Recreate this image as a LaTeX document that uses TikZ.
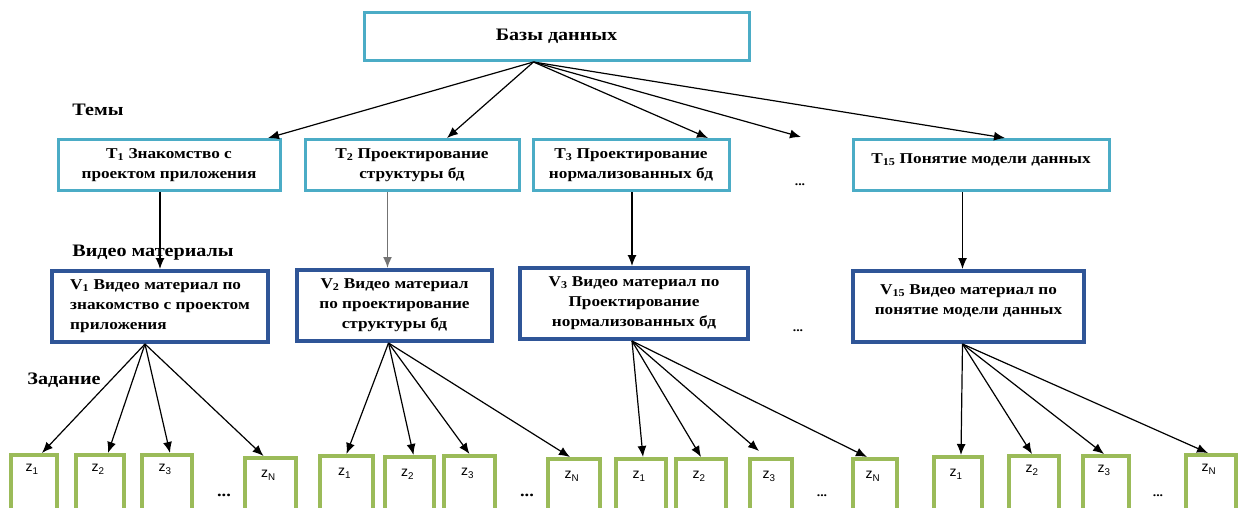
\documentclass[tikz,border=0pt]{standalone}
\usepackage{fontspec}
\setmainfont{Liberation Serif}[FakeStretch=1.15]
\setsansfont{Liberation Sans}
\usetikzlibrary{arrows.meta}
\definecolor{cyanb}{RGB}{75,172,198}
\definecolor{navyb}{RGB}{47,85,151}
\definecolor{greenb}{RGB}{155,187,89}
\tikzset{
  txt/.style={font=\bfseries\fontsize{15}{20}\selectfont},
  big/.style={font=\bfseries\fontsize{17.5}{20}\selectfont},
  tbox/.style={draw=cyanb, line width=3pt, fill=white, align=center, inner sep=0pt, txt},
  vbox/.style={draw=navyb, line width=4pt, fill=white, align=center, inner sep=0pt, txt},
  zbox/.style={draw=greenb, line width=4pt, anchor=north, minimum height=62pt, inner sep=0pt},
  zlab/.style={font=\sffamily\fontsize{14}{14}\selectfont},
  arr/.style={-{Latex[length=11pt,width=9pt]}, line width=1.2pt},
  dots/.style={font=\bfseries\fontsize{16}{16}\selectfont},
  sdots/.style={font=\bfseries\fontsize{12}{12}\selectfont},
}
\newcommand{\zz}[1]{z\textsubscript{#1}}
\begin{document}
\begin{tikzpicture}[x=1pt,y=-1pt]
\useasboundingbox (0,0) rectangle (1243,507);
\clip (0,0) rectangle (1243,507);

% top
\node[tbox, big, minimum width=385pt, minimum height=48pt] (db) at (556.5,36.5) {Базы данных};

% labels
\node[big] (lt) at (98,110) {Темы};
\node[big] (lv) at (153,253) {Видео материалы};
\node[big] (lz) at (64,380) {Задание};

% topics
\node[tbox, minimum width=222pt, minimum height=51pt] (t1) at (169,165) {T\textsubscript{1} Знакомство с\\проектом приложения};
\node[tbox, minimum width=214pt, minimum height=51pt] (t2) at (412,165) {T\textsubscript{2} Проектирование\\структуры бд};
\node[tbox, minimum width=196pt, minimum height=51pt] (t3) at (631,165) {T\textsubscript{3} Проектирование\\нормализованных бд};
\node[tbox, minimum width=256pt, minimum height=51pt] (t15) at (981,165) {};
\node[txt] (t15t) at (981,160) {T\textsubscript{15} Понятие модели данных};
\node[sdots] (d1) at (800,185) {...};
\coordinate (dtop) at (801,137);

% videos
\node[vbox, minimum width=216pt, minimum height=71pt, align=left] (v1) at (160,306.5) {V\textsubscript{1} Видео материал по\\знакомство с проектом\\приложения};
\node[vbox, minimum width=195pt, minimum height=71pt] (v2) at (394.5,305.5) {V\textsubscript{2} Видео материал\\по проектирование\\структуры бд};
\node[vbox, minimum width=228pt, minimum height=71pt] (v3) at (634,303.5) {V\textsubscript{3} Видео материал по\\Проектирование\\нормализованных бд};
\node[vbox, minimum width=231pt, minimum height=71pt] (v15) at (968.5,306.5) {};
\node[txt, align=center] (v15t) at (968.5,301) {V\textsubscript{15} Видео материал по\\понятие модели данных};
\node[sdots] (d2) at (798,331) {...};

% tasks
\node[zbox, minimum width=46pt, label={[zlab,anchor=north,yshift=-8pt,xshift=-2pt]north:\zz{1}}] (z11) at (34,453) {};
\node[zbox, minimum width=48pt, label={[zlab,anchor=north,yshift=-8pt,xshift=-2pt]north:\zz{2}}] (z12) at (100,453) {};
\node[zbox, minimum width=50pt, label={[zlab,anchor=north,yshift=-8pt,xshift=-2pt]north:\zz{3}}] (z13) at (167,453) {};
\node[dots] (e1) at (224,495) {...};
\node[zbox, minimum width=51pt, label={[zlab,anchor=north,yshift=-11pt,xshift=-2pt]north:\zz{N}}] (z14) at (270.5,456) {};

\node[zbox, minimum width=53pt, label={[zlab,anchor=north,yshift=-11pt,xshift=-2pt]north:\zz{1}}] (z21) at (346.5,454) {};
\node[zbox, minimum width=49pt, label={[zlab,anchor=north,yshift=-11pt,xshift=-2pt]north:\zz{2}}] (z22) at (409.5,455) {};
\node[zbox, minimum width=51pt, label={[zlab,anchor=north,yshift=-11pt,xshift=-2pt]north:\zz{3}}] (z23) at (469.5,454) {};
\node[dots] (e2) at (527,495) {...};
\node[zbox, minimum width=52pt, label={[zlab,anchor=north,yshift=-11pt,xshift=-2pt]north:\zz{N}}] (z24) at (574,457) {};

\node[zbox, minimum width=50pt, label={[zlab,anchor=north,yshift=-11pt,xshift=-2pt]north:\zz{1}}] (z31) at (641,457) {};
\node[zbox, minimum width=50pt, label={[zlab,anchor=north,yshift=-11pt,xshift=-2pt]north:\zz{2}}] (z32) at (701,457) {};
\node[zbox, minimum width=42pt, label={[zlab,anchor=north,yshift=-11pt,xshift=-2pt]north:\zz{3}}] (z33) at (771,457) {};
\node[sdots] (e3) at (822,496) {...};
\node[zbox, minimum width=44pt, label={[zlab,anchor=north,yshift=-11pt,xshift=-2pt]north:\zz{N}}] (z34) at (875,457) {};

\node[zbox, minimum width=48pt, label={[zlab,anchor=north,yshift=-11pt,xshift=-2pt]north:\zz{1}}] (z41) at (958,455) {};
\node[zbox, minimum width=50pt, label={[zlab,anchor=north,yshift=-8pt,xshift=-2pt]north:\zz{2}}] (z42) at (1034,454) {};
\node[zbox, minimum width=46pt, label={[zlab,anchor=north,yshift=-8pt,xshift=-2pt]north:\zz{3}}] (z43) at (1106,454) {};
\node[sdots] (e4) at (1158,496) {...};
\node[zbox, minimum width=50pt, label={[zlab,anchor=north,yshift=-8pt,xshift=-2pt]north:\zz{N}}] (z44) at (1211,453) {};

% connectors: top
\coordinate (o) at ([xshift=-23pt]db.south);
\draw[arr] (o) -- ([xshift=99pt]t1.north);
\draw[arr] (o) -- ([xshift=35pt]t2.north);
\draw[arr] (o) -- ([xshift=77pt]t3.north);
\draw[arr] (o) -- (dtop);
\draw[arr] (o) -- ([xshift=24pt]t15.north);

% topics to videos
\draw[arr] (t1.south -| v1.north) -- (v1.north);
\draw[arr, line width=1.7pt, draw=black!55, fill=black!55] ([xshift=-7pt]v2.north |- t2.south) -- ([xshift=-7pt]v2.north);
\draw[arr] ([xshift=-2pt]v3.north |- t3.south) -- ([xshift=-2pt]v3.north);
\draw[arr] ([xshift=-6pt]v15.north |- t15.south) -- ([xshift=-6pt]v15.north);

% videos to tasks
\coordinate (o1) at ([xshift=-15pt]v1.south);
\draw[arr] (o1) -- ([xshift=8pt]z11.north);
\draw[arr] (o1) -- ([xshift=8pt]z12.north);
\draw[arr] (o1) -- ([xshift=3pt]z13.north);
\draw[arr] (o1) -- ([xshift=-7pt]z14.north);

\coordinate (o2) at ([xshift=-6pt]v2.south);
\draw[arr] (o2) -- (z21.north);
\draw[arr] (o2) -- ([xshift=4pt]z22.north);
\draw[arr] (o2) -- (z23.north);
\draw[arr] (o2) -- ([xshift=-4pt]z24.north);

\coordinate (o3) at ([xshift=-2pt]v3.south);
\draw[arr] (o3) -- ([xshift=2pt]z31.north);
\draw[arr] (o3) -- (z32.north);
\draw[arr] (o3) -- ([xshift=-12pt,yshift=6pt]z33.north);
\draw[arr] (o3) -- ([xshift=-8pt]z34.north);

\coordinate (o4) at ([xshift=-6pt]v15.south);
\draw[arr] (o4) -- ([xshift=3pt]z41.north);
\draw[arr] (o4) -- ([xshift=-2pt]z42.north);
\draw[arr] (o4) -- ([xshift=-2pt]z43.north);
\draw[arr] (o4) -- ([xshift=-3pt]z44.north);
\end{tikzpicture}
\end{document}
